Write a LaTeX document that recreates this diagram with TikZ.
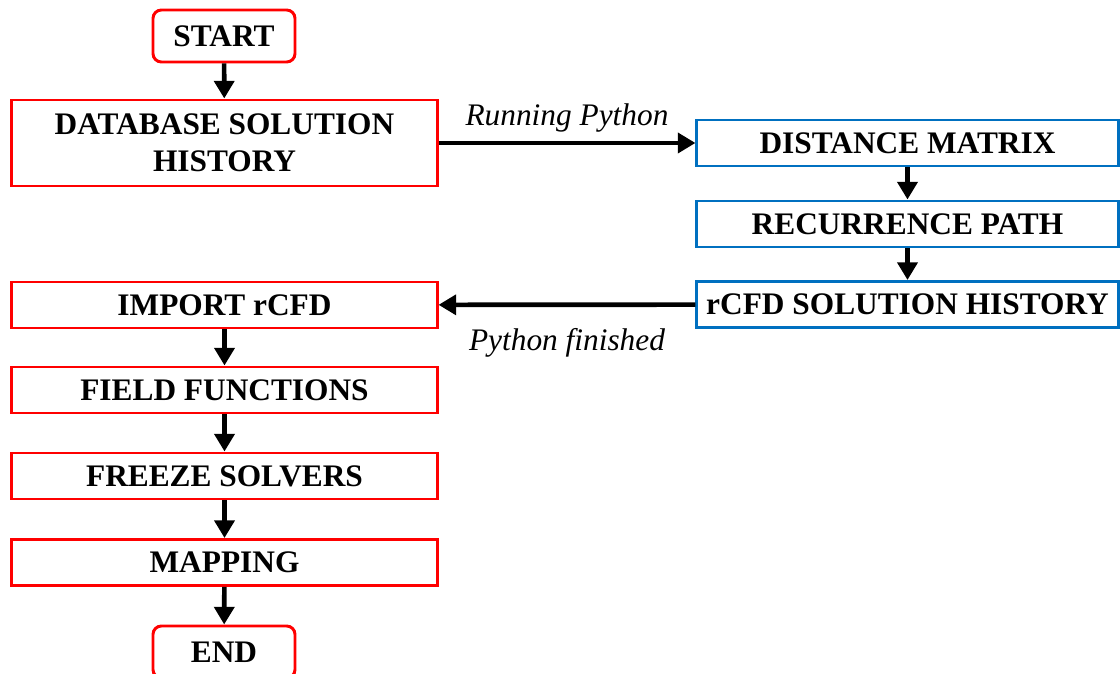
\documentclass[tikz,border=0pt]{standalone}
\usepackage{fontspec}
\setmainfont{Liberation Serif}
\usetikzlibrary{arrows.meta}
\definecolor{boxred}{RGB}{255,0,0}
\definecolor{boxblue}{RGB}{0,112,192}
\tikzset{
  redbox/.style={draw=boxred, line width=2.1pt, fill=white, minimum width=10.625cm, minimum height=1.15cm, inner sep=0pt, align=center, font=\fontsize{22.3}{26.5}\selectfont\bfseries},
  bluebox/.style={redbox, draw=boxblue, minimum width=10.525cm},
  endbox/.style={redbox, rounded corners=6pt, minimum width=3.55cm, minimum height=1.3cm},
  arr/.style={line width=3.3pt, -{Triangle[length=12.5pt, width=14pt]}},
  note/.style={font=\fontsize{22.3}{26}\selectfont\itshape}
}
\begin{document}
\begin{tikzpicture}[x=0.025cm, y=-0.025cm]
			%%%%% START %%%%%
			\useasboundingbox (0, 0) rectangle (1120, 674);
			
			\node[endbox] (start) at (224, 36) {START};
			\node[redbox, minimum height=2.15cm] (dbhist) at (224.5, 143) {DATABASE SOLUTION\\HISTORY};
			
			\node[bluebox] (distmat) at (907.5, 143) {DISTANCE MATRIX};
			\node[bluebox] (recpath) at (907.5, 224) {RECURRENCE PATH};
			\node[bluebox] (rcfdhist) at (907.5, 304.5) {rCFD SOLUTION HISTORY};
			
			\node[redbox] (import) at (224.5, 305) {IMPORT rCFD};
			\node[redbox] (fieldfn) at (224.5, 390) {FIELD FUNCTIONS};
			\node[redbox] (freeze) at (224.5, 476) {FREEZE SOLVERS};
			\node[redbox] (mapping) at (224.5, 562.5) {MAPPING};
			\node[endbox] (finish) at (224, 652) {END};
			
			\draw[arr] (start) -- (dbhist);
			\draw[arr] (dbhist) -- node[note, above=3pt] (run) {Running Python} (distmat);
			\draw[arr] (distmat) -- (recpath);
			\draw[arr] (recpath) -- (rcfdhist);
			\draw[arr] (rcfdhist) -- node[note, below=12pt] (done) {Python finished} (import);
			\draw[arr] (import) -- (fieldfn);
			\draw[arr] (fieldfn) -- (freeze);
			\draw[arr] (freeze) -- (mapping);
			\draw[arr] (mapping) -- (finish);
			
			%%%%% END %%%%%
\end{tikzpicture}
\end{document}
